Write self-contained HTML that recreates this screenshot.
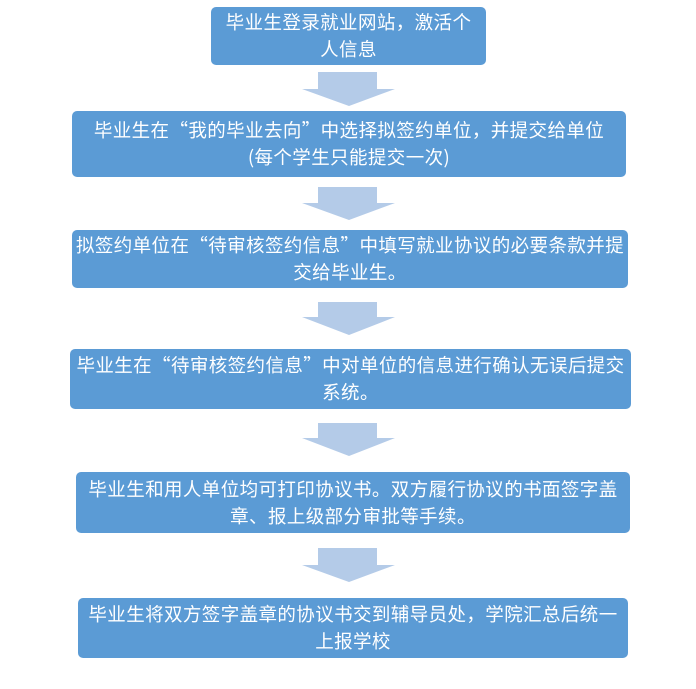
<!DOCTYPE html>
<html><head><meta charset="utf-8"><style>
body{margin:0;width:696px;height:689px;background:#fff;position:relative;overflow:hidden;font-family:"Noto Sans CJK SC","Liberation Sans",sans-serif}
.b{position:absolute;background:#5b9bd5;border-radius:5px;color:#fff;font-size:18.5px;letter-spacing:0.4px;line-height:27px;text-align:center;display:flex;align-items:center;justify-content:center;box-sizing:border-box;padding:0;white-space:nowrap}
svg{position:absolute;left:0;top:0}
</style></head><body>
<svg width="696" height="689">
<g fill="#b4cbe8">
<polygon points="318,72 377,72 377,89 395,89 349,106 302,89 318,89"/>
<polygon points="318,187 377,187 377,203 395,203 349,220 302,203 318,203"/>
<polygon points="318,302 377,302 377,317 395,317 349,335 302,317 318,317"/>
<polygon points="318,423 377,423 377,438 395,438 349,456 302,438 318,438"/>
<polygon points="318,548 377,548 377,565 395,565 349,582 302,565 318,565"/>
</g></svg>
<div class="b" style="left:211px;top:7px;width:275px;height:58px">毕业生登录就业网站，激活个<br>人信息</div>
<div class="b" style="left:72px;top:111px;width:554px;height:66px">毕业生在“我的毕业去向”中选择拟签约单位，并提交给单位<br>(每个学生只能提交一次)</div>
<div class="b" style="left:72px;top:230px;width:556px;height:58px">拟签约单位在“待审核签约信息”中填写就业协议的必要条款并提<br>交给毕业生。</div>
<div class="b" style="left:70px;top:349px;width:561px;height:60px">毕业生在“待审核签约信息”中对单位的信息进行确认无误后提交<br>系统。</div>
<div class="b" style="left:76px;top:472px;width:554px;height:61px">毕业生和用人单位均可打印协议书。双方履行协议的书面签字盖<br>章、报上级部分审批等手续。</div>
<div class="b" style="left:78px;top:598px;width:550px;height:60px">毕业生将双方签字盖章的协议书交到辅导员处，学院汇总后统一<br>上报学校</div>
</body></html>
